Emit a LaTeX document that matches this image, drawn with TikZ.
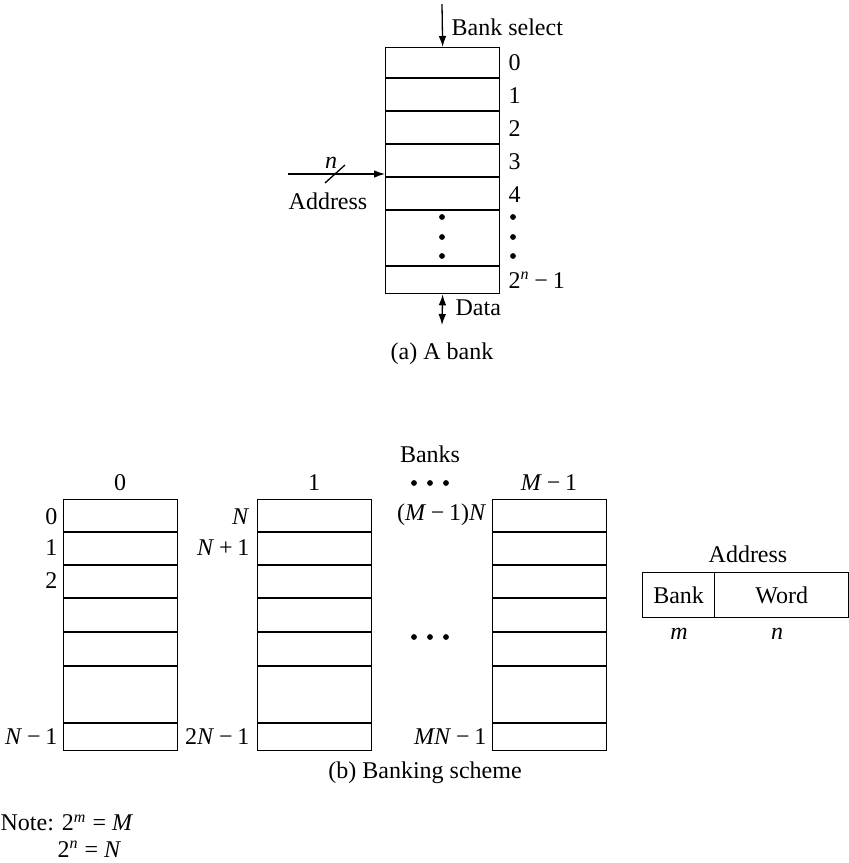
\documentclass[tikz,border=0pt]{standalone}
\usepackage{fontspec}
\setmainfont{Liberation Serif}
\usetikzlibrary{arrows.meta}
\newcommand{\mi}[1]{\textit{#1}}
\newcommand{\mm}{\hspace{0.2em}−\hspace{0.2em}}
\begin{document}
\begin{tikzpicture}[x=0.5pt,y=-0.5pt,line width=0.65pt,
  every node/.style={font=\fontsize{12}{14}\selectfont, inner sep=0pt},
  membox/.style={draw, rectangle, minimum width=57pt, minimum height=#1, anchor=north west},
  dot/.style={fill, circle, minimum size=2.9pt, inner sep=0pt},
  arr/.style={-{Latex[length=5.5pt,width=3.8pt]}},
  darr/.style={{Latex[length=5.5pt,width=3.8pt]}-{Latex[length=5.5pt,width=3.8pt]}},
  lbl/.style={anchor=west},
  llbl/.style={anchor=east}]
\useasboundingbox (0,0) rectangle (849,863);

% ---------- (a) a bank ----------
\node[membox=123pt] (bankA) at (385,47) {};
\foreach \y in {78,111,144,177,210,266} \draw (385,\y) -- (499,\y);
\coordinate (bsTop) at (442,4);
\draw[arr] (bsTop) -- (bankA.north);
\node[anchor=west] (bs) at (451,27) {Bank select};
\node[lbl] (a0) at (508,63) {0};
\node[lbl] (a1) at (508,96) {1};
\node[lbl] (a2) at (508,129) {2};
\node[lbl] (a3) at (508,162) {3};
\node[lbl] (a4) at (508,195) {4};
\node[lbl] (aN) at (508,280) {2\textsuperscript{\mi{n}}\mm 1};
\foreach \y in {217,237,256} {\node[dot] at (442,\y) {}; \node[dot] at (513,\y) {};}
\coordinate (addrStart) at (288,174);
\coordinate (addrEnd) at (385,174);
\draw[arr] (addrStart) -- (addrEnd);
\coordinate (slA) at (325,183);
\coordinate (slB) at (345,165);
\draw (slA) -- (slB);
\node (nlab) at (331,163) {\mi{n}};
\node (addrlab) at (328,201) {Address};
\coordinate (dataEnd) at (442,325);
\draw[darr] (bankA.south) -- (dataEnd);
\node[anchor=west] (datalab) at (455,308) {Data};
\node (capA) at (442,354) {(a) A bank};

% ---------- (b) banking scheme ----------
\node (banks) at (430,454) {Banks};
\node[membox=125.5pt] (b0) at (63,499) {};
\node[membox=125.5pt] (b1) at (257,499) {};
\node[membox=125.5pt] (bM) at (492,499) {};
\foreach \x in {63,257,492}
  \foreach \y in {532,565,598,632,666,723}
    \draw (\x,\y) -- ({\x+114},\y);
\node (h0) at (120,483) {0};
\node (h1) at (314,483) {1};
\node (hM) at (549,483) {\mi{M}\mm 1};
\foreach \x in {414,430,446} {\node[dot] at (\x,483) {}; \node[dot] at (\x,637) {};}
% labels bank 0
\node[llbl] at (58,517) {0};
\node[llbl] at (58,548) {1};
\node[llbl] at (58,581) {2};
\node[llbl] at (58,737) {\mi{N}\mm 1};
% labels bank 1
\node[llbl] at (250,517) {\mi{N}};
\node[llbl] at (250,548) {\mi{N}\hspace{0.2em}+\hspace{0.2em}1};
\node[llbl] at (250,737) {2\mi{N}\mm 1};
% labels bank M-1
\node[llbl] at (487,515) {(\mi{M}\mm 1)\mi{N}};
\node[llbl] at (487,737) {\mi{MN}\mm 1};

% address format
\node (addrT) at (748,554) {Address};
\node[draw, rectangle, minimum width=36pt, minimum height=22.5pt, anchor=north west] (fBank) at (642,572) {};
\node[draw, rectangle, minimum width=67pt, minimum height=22.5pt, anchor=north west] (fWord) at (714,572) {};
\node at (fBank.center) {Bank};
\node at (fWord.center) {Word};
\node at (679,634) {\mi{m}};
\node at (777,634) {\mi{n}};

\node (capB) at (425,773) {(b) Banking scheme};

% note
\node[anchor=west] (note1) at (0,823) {Note: 2\textsuperscript{\mi{m}} = \mi{M}};
\node[anchor=west] (note2) at (57,849) {2\textsuperscript{\mi{n}} = \mi{N}};
\end{tikzpicture}
\end{document}
